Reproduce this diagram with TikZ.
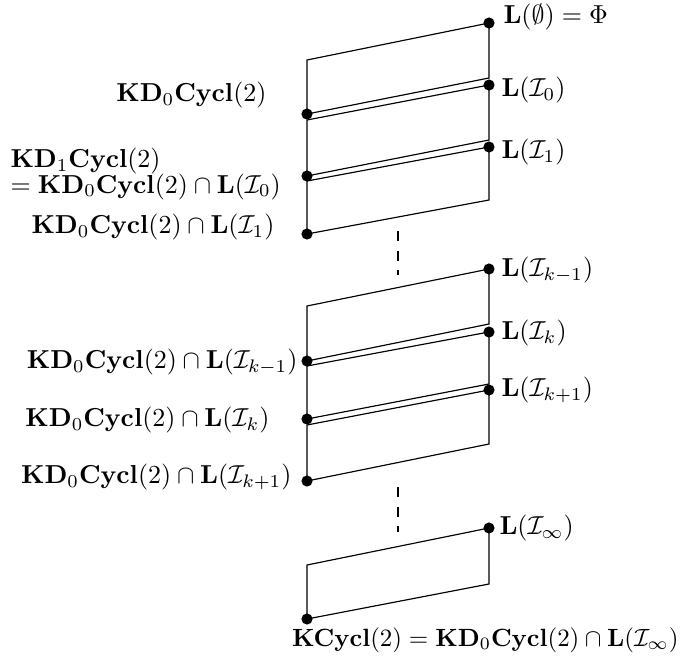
\documentclass[tikz,border=0pt]{standalone}
\usepackage{amsmath,amssymb}
\begin{document}
\begin{tikzpicture}[x=0.385pt,y=-0.385pt,
  edge/.style={line width=0.45pt},
  gap/.style={line width=1pt,dash pattern=on 3.8pt off 3.8pt},
  dot/.style={circle,fill=black,inner sep=0pt,minimum size=4.3pt},
  lab/.style={inner sep=0pt}]
\useasboundingbox (0,0) rectangle (688,660);

% corners of the seven strips: top-left, top-right, bottom-right, bottom-left
\foreach \n/\tl/\tr/\br/\bl in {1/60/23/78/114, 2/120/85/140/176, 3/181/147/200/234,
                                4/306/269/324/361, 5/366/332/384/419, 6/425/390/444/481,
                                7/565/528/584/619}{
  \coordinate (tl\n) at (307,\tl);
  \coordinate (tr\n) at (489,\tr);
  \coordinate (br\n) at (489,\br);
  \coordinate (bl\n) at (307,\bl);
}
\foreach \n in {1,...,7}{
  \draw[edge] (tl\n) -- (tr\n) -- (br\n) -- (bl\n) -- cycle;
}

% dots at the marked corners
\foreach \n in {1,...,7}{
  \node[dot] (R\n) at (tr\n) {};
}
\foreach \n in {1,...,7}{
  \node[dot] (Q\n) at (bl\n) {};
}

% omitted levels
\coordinate (g1a) at (398,231);
\coordinate (g1b) at (398,275);
\coordinate (g2a) at (398,487);
\coordinate (g2b) at (398,532);
\draw[gap] (g1a) -- (g1b);
\draw[gap] (g2a) -- (g2b);

% right-hand labels
\node[lab,anchor=west] (LR1) at (503,17) {$\mathbf{L}(\emptyset)=\Phi$};
\node[lab,anchor=west] (LR2) at (501,90) {$\mathbf{L}(\mathcal{I}_0)$};
\node[lab,anchor=west] (LR3) at (501,152) {$\mathbf{L}(\mathcal{I}_1)$};
\node[lab,anchor=west] (LR4) at (501,270) {$\mathbf{L}(\mathcal{I}_{k-1})$};
\node[lab,anchor=west] (LR5) at (501,333) {$\mathbf{L}(\mathcal{I}_k)$};
\node[lab,anchor=west] (LR6) at (501,390) {$\mathbf{L}(\mathcal{I}_{k+1})$};
\node[lab,anchor=west] (LR7) at (499,528) {$\mathbf{L}(\mathcal{I}_\infty)$};

% left-hand labels
\node[lab,anchor=east] (LL1) at (267,95) {$\mathbf{KD}_0\mathbf{Cycl}(2)$};
\node[lab,anchor=west,align=left] (LL2) at (10,174)
  {$\mathbf{KD}_1\mathbf{Cycl}(2)$\\[-2.3pt]
   $=\mathbf{KD}_0\mathbf{Cycl}(2)\cap\mathbf{L}(\mathcal{I}_0)$};
\node[lab,anchor=east] (LL3) at (275,227) {$\mathbf{KD}_0\mathbf{Cycl}(2)\cap\mathbf{L}(\mathcal{I}_1)$};
\node[lab,anchor=east] (LL4) at (298,362) {$\mathbf{KD}_0\mathbf{Cycl}(2)\cap\mathbf{L}(\mathcal{I}_{k-1})$};
\node[lab,anchor=east] (LL5) at (270,420) {$\mathbf{KD}_0\mathbf{Cycl}(2)\cap\mathbf{L}(\mathcal{I}_k)$};
\node[lab,anchor=east] (LL6) at (292,477) {$\mathbf{KD}_0\mathbf{Cycl}(2)\cap\mathbf{L}(\mathcal{I}_{k+1})$};
\node[lab,anchor=east,scale=0.96] (LL7) at (679,640) {$\mathbf{KCycl}(2)=\mathbf{KD}_0\mathbf{Cycl}(2)\cap\mathbf{L}(\mathcal{I}_\infty)$};
\end{tikzpicture}
\end{document}
